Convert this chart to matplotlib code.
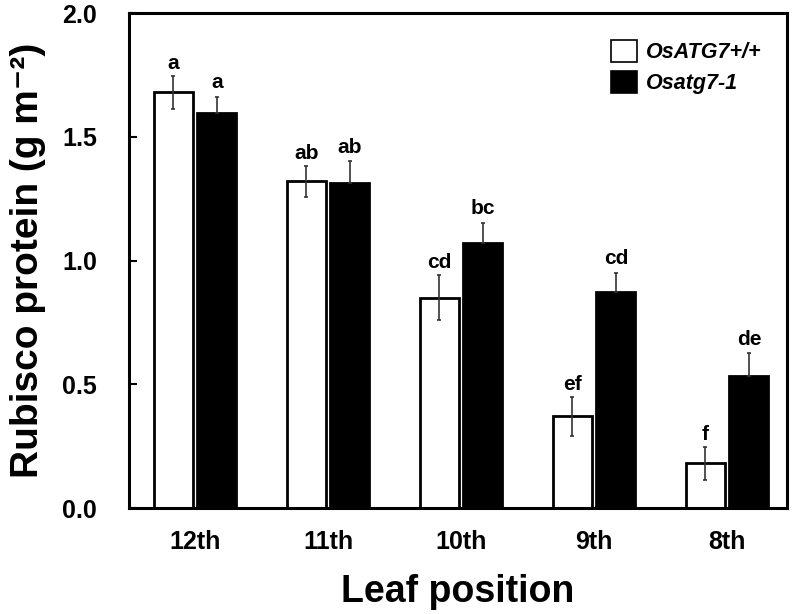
import numpy as np
import matplotlib
matplotlib.use("Agg")
import matplotlib.pyplot as plt
from matplotlib.patches import Patch

plt.rcParams["font.family"] = ["Liberation Sans", "DejaVu Sans"]
plt.rcParams["font.weight"] = "bold"

leaf_positions = ["12th", "11th", "10th", "9th", "8th"]
wt_mean = [1.68, 1.32, 0.85, 0.37, 0.18]
wt_err = [0.066, 0.062, 0.092, 0.077, 0.068]
mut_mean = [1.595, 1.313, 1.069, 0.874, 0.532]
mut_err = [0.066, 0.089, 0.084, 0.076, 0.094]
wt_letters = ["a", "ab", "cd", "ef", "f"]
mut_letters = ["a", "ab", "bc", "cd", "de"]

fig = plt.figure(figsize=(7.93, 6.14), dpi=100)
ax = fig.add_axes([0.1627, 0.1726, 0.8297, 0.8062])

x = np.arange(len(leaf_positions))
width = 0.293
off = 0.164

ax.bar(x - off, wt_mean, width, color="white", edgecolor="black", linewidth=2, zorder=2)
ax.bar(x + off, mut_mean, width, color="black", edgecolor="black", linewidth=2, zorder=2)
ax.errorbar(x - off, wt_mean, yerr=wt_err, fmt="none", ecolor="#333333",
            elinewidth=1.2, capsize=1.5, capthick=1.2, zorder=3)
ax.errorbar(x + off, mut_mean, yerr=[np.zeros(len(mut_err)), mut_err], fmt="none",
            ecolor="#333333", elinewidth=1.2, capsize=1.5, capthick=1.2, zorder=3)

# significance letters sit a little above each error bar
for i in range(len(x)):
    ax.text(x[i] - off, wt_mean[i] + wt_err[i] + 0.012, wt_letters[i],
            ha="center", va="bottom", fontsize=15, fontweight="bold")
    ax.text(x[i] + off, mut_mean[i] + mut_err[i] + 0.018, mut_letters[i],
            ha="center", va="bottom", fontsize=15, fontweight="bold")

ax.set_xlim(-0.496, 4.45)
ax.set_ylim(0, 2.0)
ax.set_yticks([0.0, 0.5, 1.0, 1.5, 2.0])
ax.set_yticklabels(["0.0", "0.5", "1.0", "1.5", "2.0"], fontsize=18, fontweight="bold")
ax.set_xticks(x)
ax.set_xticklabels(leaf_positions, fontsize=18, fontweight="bold")
ax.tick_params(axis="x", length=0, pad=16)
ax.tick_params(axis="y", direction="in", length=6, width=1.5, pad=23)

for s in ax.spines.values():
    s.set_linewidth(2.2)

ax.set_ylabel("Rubisco protein (g m⁻²)", fontsize=28, fontweight="bold", labelpad=12)
ax.set_xlabel("Leaf position", fontsize=27, fontweight="bold", labelpad=14)

handles = [Patch(facecolor="white", edgecolor="black", linewidth=1.2),
           Patch(facecolor="black", edgecolor="black", linewidth=1.2)]
ax.legend(handles, ["OsATG7+/+", "Osatg7-1"], loc="upper right", frameon=False,
          prop={"size": 15.5, "weight": "bold", "style": "italic"},
          handlelength=1.2, handleheight=1.2, handletextpad=0.4,
          bbox_to_anchor=(0.99, 0.985), labelspacing=0.35)

fig.savefig("out.png", dpi=100)
